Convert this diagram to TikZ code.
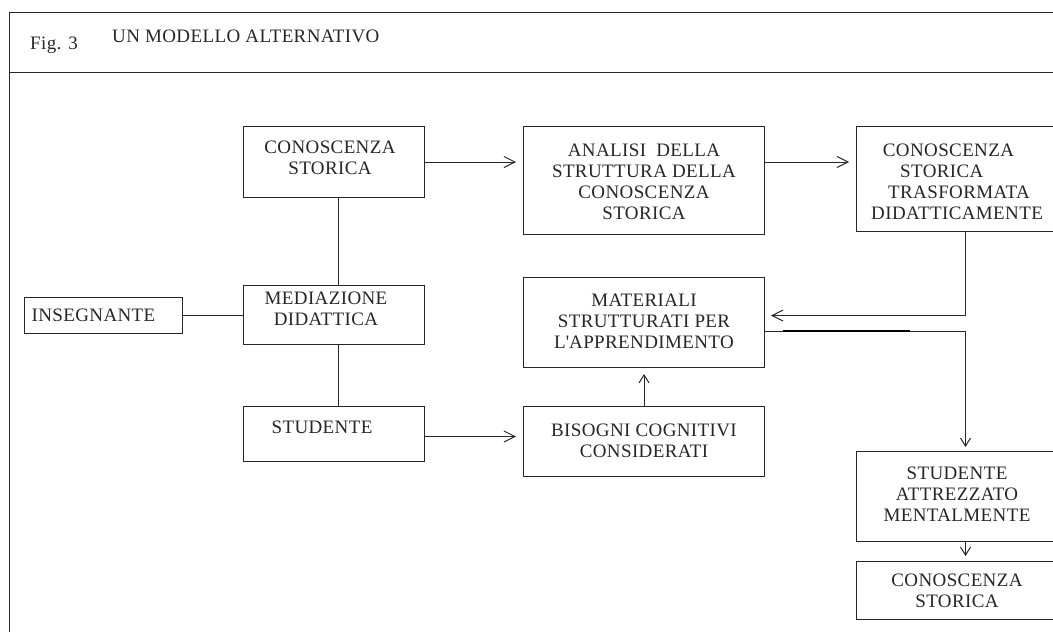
\documentclass[tikz,border=0pt]{standalone}
\usepackage{fontspec}
\setmainfont{Liberation Serif}[LetterSpace=2]
\usetikzlibrary{arrows.meta,calc}
\begin{document}
\begin{tikzpicture}[x=1pt,y=-1pt,
  every node/.style={font=\fontsize{19}{21}\selectfont, text=black!85},
  box/.style={draw=black!85, line width=1pt, inner sep=0pt, anchor=north west},
  lbl/.style={align=center, inner sep=0pt},
  ln/.style={draw=black!85, line width=1pt},
  harr/.style={ln, -{Straight Barb[length=11pt,width=11pt]}},
  varr/.style={ln, -{Straight Barb[length=8pt,width=10pt]}}]
\useasboundingbox (0,0) rectangle (1053,632);
\clip (0,0) rectangle (1053,632);
% frame
\draw[ln] (9,640) -- (9,12) -- (1060,12);
\draw[ln] (9,72) -- (1060,72);
\node[anchor=base west, inner sep=0pt] (fig) at (30,49.3) {Fig. 3};
\node[anchor=base west, inner sep=0pt] (title) at (112,42.7) {UN MODELLO ALTERNATIVO};
% boxes
\node[box, minimum width=181pt, minimum height=71pt] (cs1) at (243,126) {};
\node[box, minimum width=241pt, minimum height=108pt] (analisi) at (523,126) {};
\node[box, minimum width=218pt, minimum height=105pt] (trasf) at (856,126) {};
\node[box, minimum width=181pt, minimum height=59pt] (med) at (243,285) {};
\node[box, minimum width=157.5pt, minimum height=36pt] (insegn) at (24,297) {};
\node[box, minimum width=241pt, minimum height=90pt] (materiali) at (523,277) {};
\node[box, minimum width=181pt, minimum height=55pt] (stud) at (243,406) {};
\node[box, minimum width=241pt, minimum height=70pt] (bisogni) at (523,406) {};
\node[box, minimum width=218pt, minimum height=90pt] (studatt) at (856,451) {};
\node[box, minimum width=218pt, minimum height=58pt] (cs2) at (856,561) {};
% labels
\node[lbl] (tcs1) at (330,158) {CONOSCENZA\\STORICA};
\node[lbl] (tanalisi) at (644,182) {ANALISI\ \ DELLA\\STRUTTURA DELLA\\CONOSCENZA\\STORICA};
\node[align=left, inner sep=0pt, anchor=west] (ttrasf) at (871,181.7)
  {\hspace*{11.7pt}CONOSCENZA\\\hspace*{29pt}STORICA\\\hspace*{17pt}TRASFORMATA\\DIDATTICAMENTE};
\node[lbl] (tmed) at (326,309) {MEDIAZIONE\\DIDATTICA};
\node[anchor=west, inner sep=0pt] (tinsegn) at (31.4,315) {INSEGNANTE};
\node[lbl] (tmat) at (644,321.7) {MATERIALI\\STRUTTURATI PER\\L\textquotesingle APPRENDIMENTO};
\node[lbl] (tstud) at (322,427.3) {STUDENTE};
\node[lbl] (tbis) at (644,440.3) {BISOGNI COGNITIVI\\CONSIDERATI};
\node[lbl] (tstudatt) at (957,494) {STUDENTE\\ATTREZZATO\\MENTALMENTE};
\node[lbl] (tcs2) at (957,591) {CONOSCENZA\\STORICA};
% connectors
\draw[harr, shorten >=7pt] (cs1.east) -- (cs1.east -| analisi.west);
\draw[harr, shorten >=7pt] (analisi.east |- cs1.east) -- (trasf.west |- cs1.east);
\draw[harr, shorten >=6pt] (trasf.south) |- ($(materiali.east)+(0,-7)$);
\draw[varr, shorten >=4pt] ($(materiali.east)+(0,8.7)$) -| (studatt.north);
\draw[line width=1.8pt, black] ($(materiali.east)+(18,8.7)$) -- ++(127,0);
\draw[varr, shorten >=5pt] (studatt.south) -- (cs2.north);
\draw[varr, shorten >=6pt] (bisogni.north) -- (materiali.south);
\draw[ln] ($(cs1.south)+(4.5,0)$) -- ($(med.north)+(4.5,0)$);
\draw[ln] ($(med.south)+(4.5,0)$) -- ($(stud.north)+(4.5,0)$);
\draw[ln] (insegn.east) -- (insegn.east -| med.west);
\draw[harr, shorten >=7pt] ($(stud.east)+(0,2.5)$) -- ($(bisogni.west)+(0,-5)$);
\end{tikzpicture}
\end{document}
